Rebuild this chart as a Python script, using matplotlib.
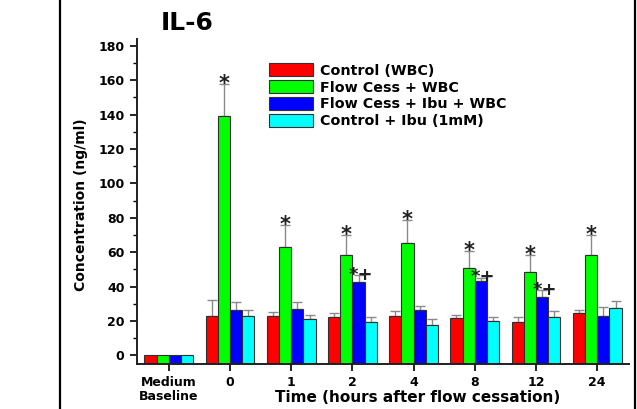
import numpy as np
import matplotlib.pyplot as plt
from matplotlib.lines import Line2D

groups = ['Medium\nBaseline', '0', '1', '2', '4', '8', '12', '24']

control = [0, 23.2, 23.0, 22.1, 22.7, 21.9, 19.4, 24.6]
control_err = [0, 8.8, 2.2, 2.3, 3.1, 1.8, 2.7, 1.8]
flow = [0, 139.3, 62.8, 58.3, 65.5, 50.6, 48.6, 58.5]
flow_err = [0, 18.4, 13.0, 12.0, 13.2, 10.4, 9.9, 11.8]
flow_ibu = [0, 26.6, 26.7, 42.8, 26.6, 43.4, 33.7, 22.9]
flow_ibu_err = [0, 4.4, 4.1, 3.9, 2.3, 1.9, 4.3, 5.2]
ctrl_ibu = [0, 22.9, 21.3, 19.6, 17.7, 20.2, 22.5, 27.7]
ctrl_ibu_err = [0, 3.5, 2.4, 2.9, 3.5, 1.9, 3.1, 3.7]

series_names = ['Control (WBC)', 'Flow Cess + WBC',
                'Flow Cess + Ibu + WBC', 'Control + Ibu (1mM)']
colors = ['#ff0000', '#00ff00', '#0000ff', '#00ffff']

# significance marks: '*' over every flow-cessation bar, '*+' over ibuprofen bars
star_groups = [1, 2, 3, 4, 5, 6, 7]
star_plus_groups = [3, 5, 6]

plt.rcParams['font.family'] = 'DejaVu Sans'
plt.rcParams['font.weight'] = 'bold'

fig = plt.figure(figsize=(6.37, 4.09), dpi=100)
ax = fig.add_axes([137 / 637, 1 - 364 / 409, 492 / 637, 325 / 409])

ymin, ymax = -5, 184
x = np.arange(len(groups))
width = 0.2
offsets = [-0.3, -0.1, 0.1, 0.3]
data = [control, flow, flow_ibu, ctrl_ibu]
errs = [control_err, flow_err, flow_ibu_err, ctrl_ibu_err]

for vals, err, off, col, name in zip(data, errs, offsets, colors, series_names):
    vals = np.array(vals)
    err = np.array(err)
    ax.bar(x + off, vals - ymin, width, bottom=ymin, color=col,
           edgecolor='#303030', linewidth=0.8, label=name, zorder=2)
    ax.errorbar(x[1:] + off, vals[1:], yerr=[np.zeros(len(err) - 1), err[1:]],
                fmt='none', ecolor='#8a8a8a', elinewidth=1, capsize=3.5,
                capthick=1, zorder=1)

for i in star_groups:
    ax.annotate('*', (x[i] - 0.1, flow[i] + flow_err[i]), xytext=(0, -4.5),
                textcoords='offset points', ha='center', va='baseline',
                fontsize=15, fontweight='bold', color='#202020')
for i in star_plus_groups:
    ax.annotate('*+', (x[i] + 0.14, flow_ibu[i] + flow_ibu_err[i]), xytext=(0, -3.5),
                textcoords='offset points', ha='center', va='baseline',
                fontsize=13, fontweight='bold', color='#202020')

ax.set_xlim(-0.52, 7.52)
ax.set_ylim(ymin, ymax)
ax.set_xticks(x)
ax.set_xticklabels(groups, fontsize=9, fontweight='bold', linespacing=1.15)
ax.set_yticks(np.arange(0, 181, 20))
ax.set_yticks(np.arange(10, 181, 20), minor=True)
ax.tick_params(axis='y', labelsize=9, direction='out', length=5, width=1.2, pad=4)
ax.tick_params(axis='y', which='minor', direction='out', length=3, width=1)
ax.tick_params(axis='x', direction='out', length=5, width=1.2, pad=3.5)
for lbl in ax.get_yticklabels():
    lbl.set_fontweight('bold')

for side in ['top', 'right']:
    ax.spines[side].set_visible(False)
for side in ['left', 'bottom']:
    ax.spines[side].set_linewidth(1.4)
    ax.spines[side].set_color('#202020')

ax.legend(loc='upper left', bbox_to_anchor=(269 / 637, 1 - 63.5 / 409),
          bbox_transform=fig.transFigure, frameon=False,
          handlelength=3.1, handleheight=0.95, handletextpad=0.5,
          labelspacing=0.2, borderpad=0, borderaxespad=0,
          prop={'weight': 'bold', 'size': 10.3})

fig.text(187 / 637, 1 - 23 / 409, 'IL-6', ha='center', va='center',
         fontsize=18, fontweight='bold')
fig.text(80.5 / 637, 1 - 205 / 409, 'Concentration (ng/ml)', rotation=90,
         ha='center', va='center', fontsize=10, fontweight='bold')
fig.text(418 / 637, 1 - 398 / 409, 'Time (hours after flow cessation)',
         ha='center', va='center', fontsize=11, fontweight='bold')

# frame lines at the left and right edges
fig.add_artist(Line2D([59.5 / 637, 59.5 / 637], [0, 1], color='black', lw=1.6))
fig.add_artist(Line2D([635 / 637, 635 / 637], [0, 1], color='black', lw=1.6))

fig.savefig('out.png', dpi=100)
